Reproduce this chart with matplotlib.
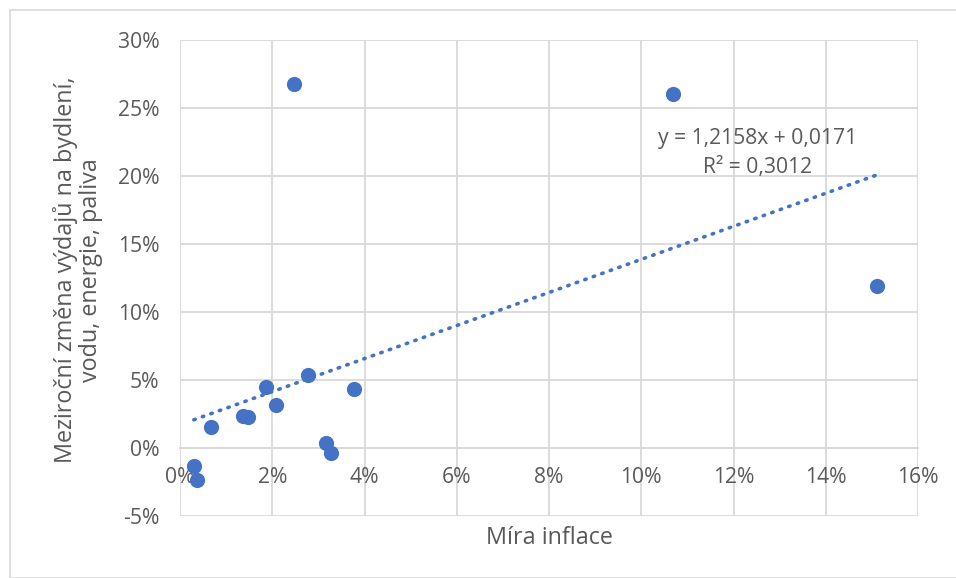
import numpy as np
import matplotlib.pyplot as plt
from matplotlib.ticker import FuncFormatter
from matplotlib.patches import Rectangle

plt.rcParams['font.family'] = ['Open Sans', 'DejaVu Sans']

# data (fractions)
inflace = [0.003, 0.0037, 0.0067, 0.0137, 0.0147, 0.0187, 0.0208, 0.0247,
           0.0278, 0.0317, 0.0328, 0.0377, 0.1069, 0.1512]
zmena = [-0.0132, -0.0235, 0.0154, 0.0235, 0.0228, 0.0449, 0.0316, 0.2676,
         0.0537, 0.0037, -0.0037, 0.0434, 0.2603, 0.119]
slope = 1.2158
intercept = 0.0171
r2 = 0.3012

blue = '#4472C4'
grey = '#595959'
gridc = '#D9D9D9'

fig = plt.figure(figsize=(9.56, 5.78), dpi=100)
fig.patches.append(Rectangle((10/956, 0), 1, 1 - 10/578, transform=fig.transFigure,
                             fill=False, edgecolor=gridc, linewidth=1.2))
ax = fig.add_axes([180/956, 1 - 516/578, 738/956, 476/578])

ax.set_xlim(0, 0.16)
ax.set_ylim(-0.05, 0.30)
ax.set_xticks(np.arange(0, 0.161, 0.02))
ax.set_yticks(np.arange(-0.05, 0.301, 0.05))
pct = FuncFormatter(lambda v, p: '{:.0f}%'.format(round(v * 100)))
ax.xaxis.set_major_formatter(pct)
ax.yaxis.set_major_formatter(pct)
ax.grid(True, color=gridc, linewidth=1.3)
ax.set_axisbelow(True)
for s in ['top', 'right', 'left']:
    ax.spines[s].set_visible(False)
ax.spines['bottom'].set_position(('data', 0))
ax.spines['bottom'].set_color(gridc)
ax.spines['bottom'].set_linewidth(1.3)
ax.tick_params(length=0, labelsize=15.2, labelcolor=grey)
ax.tick_params(axis='x', pad=14)
ax.tick_params(axis='y', pad=15)

# trend line
xt = np.array([min(inflace), max(inflace)])
ax.plot(xt, slope * xt + intercept, color=blue, linewidth=2.6,
        linestyle=(0, (0.4, 2.1)), dash_capstyle='round', zorder=2)

ax.scatter(inflace, zmena, s=120, color=blue, zorder=3, linewidths=0)

eq = 'y = {:.4f}x + {:.4f}'.format(slope, intercept).replace('.', ',')
ax.text(0.1253, 0.2279, eq, color=grey, fontsize=15.2, ha='center', va='center')
ax.text(0.1253, 0.2066, 'R² = {:.4f}'.format(r2).replace('.', ','),
        color=grey, fontsize=15.2, ha='center', va='center')

fig.text(549/956, 1 - 538/578, 'Míra inflace', fontsize=16.8, color=grey,
         ha='center', va='center')
fig.text(78/956, 1 - 270/578, 'Meziroční změna výdajů na bydlení,\nvodu, energie, paliva',
         rotation=90, ha='center', va='center', fontsize=16.8, color=grey,
         linespacing=1.05)

fig.savefig('out.png', dpi=100)
